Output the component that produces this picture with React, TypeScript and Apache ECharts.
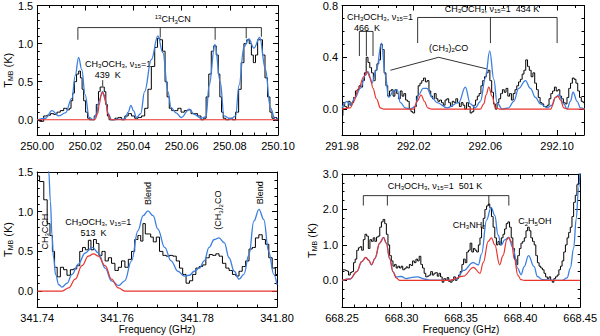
import React, { useEffect, useRef } from "react";
import * as echarts from "echarts";

const FONT = "'Liberation Sans', Arial, Helvetica, sans-serif";
const BLUE = "#3b7fe0";
const RED = "#e8352e";

// ---------- Panel 1 : 250.00 - 250.10 GHz ----------
const P1_OBS: [number, number][] = [
  [250.0000, 0.00], [250.0020, -0.02], [250.0034, 0.05], [250.0048, 0.06], [250.0062, 0.08], [250.0075, 0.07],
  [250.0089, 0.10], [250.0103, 0.12], [250.0117, 0.15], [250.0130, 0.13], [250.0137, 0.15], [250.0144, 0.25],
  [250.0151, 0.35], [250.0158, 0.50], [250.0169, 0.60], [250.0176, 0.64], [250.0183, 0.55], [250.0190, 0.40],
  [250.0196, 0.25], [250.0206, 0.10], [250.0213, 0.02], [250.0220, 0.00], [250.0234, 0.00], [250.0240, 0.05],
  [250.0251, 0.20], [250.0258, 0.37], [250.0265, 0.43], [250.0275, 0.43], [250.0282, 0.37], [250.0288, 0.20],
  [250.0295, 0.05], [250.0302, 0.00], [250.0316, 0.00], [250.0330, 0.02], [250.0343, 0.03], [250.0357, 0.00],
  [250.0371, 0.05], [250.0385, 0.08], [250.0398, 0.05], [250.0412, 0.02], [250.0426, 0.03], [250.0440, 0.05],
  [250.0453, 0.15], [250.0467, 0.40], [250.0481, 0.70], [250.0495, 0.95], [250.0504, 1.07], [250.0515, 1.05],
  [250.0526, 0.90], [250.0536, 0.50], [250.0543, 0.30], [250.0554, 0.15], [250.0563, 0.12], [250.0577, 0.12],
  [250.0591, 0.15], [250.0604, 0.10], [250.0618, 0.12], [250.0632, 0.13], [250.0646, 0.08], [250.0659, 0.08],
  [250.0673, 0.05], [250.0687, 0.00], [250.0696, 0.02], [250.0707, 0.30], [250.0718, 0.60], [250.0728, 0.90],
  [250.0738, 0.97], [250.0749, 0.85], [250.0755, 0.60], [250.0762, 0.30], [250.0769, 0.10], [250.0776, 0.02],
  [250.0790, 0.00], [250.0804, 0.02], [250.0817, 0.00], [250.0831, 0.10], [250.0842, 0.40], [250.0852, 0.75],
  [250.0865, 1.00], [250.0875, 1.05], [250.0886, 1.00], [250.0893, 0.85], [250.0902, 0.75], [250.0911, 0.85],
  [250.0920, 1.05], [250.0930, 1.05], [250.0941, 0.85], [250.0951, 0.55], [250.0962, 0.30], [250.0971, 0.10],
  [250.0979, 0.02], [250.0989, 0.03], [250.1000, 0.00],
];
const P1_FULL: [number, number][] = [
  [250.0000, 0.00], [250.0034, 0.02], [250.0062, 0.12], [250.0089, 0.05], [250.0117, 0.09], [250.0144, 0.28],
  [250.0158, 0.58], [250.0172, 0.82], [250.0185, 0.66], [250.0199, 0.33], [250.0216, 0.03], [250.0234, 0.00],
  [250.0247, 0.08], [250.0257, 0.25], [250.0271, 0.37], [250.0284, 0.25], [250.0295, 0.08], [250.0309, 0.00],
  [250.0364, 0.01], [250.0378, 0.10], [250.0389, 0.19], [250.0400, 0.12], [250.0412, 0.03], [250.0430, 0.08],
  [250.0446, 0.37], [250.0474, 0.79], [250.0501, 1.10], [250.0522, 0.88], [250.0543, 0.37], [250.0556, 0.16],
  [250.0577, 0.09], [250.0598, 0.03], [250.0632, 0.14], [250.0652, 0.07], [250.0680, 0.02], [250.0701, 0.04],
  [250.0714, 0.45], [250.0738, 0.99], [250.0760, 0.50], [250.0776, 0.05], [250.0804, 0.01], [250.0824, 0.05],
  [250.0838, 0.45], [250.0859, 0.96], [250.0879, 1.06], [250.0900, 0.94], [250.0924, 1.08], [250.0948, 0.66],
  [250.0968, 0.16], [250.0989, 0.00], [250.1000, 0.02],
];
const P1_DME: [number, number][] = [
  [250.0000, 0.00], [250.0240, 0.00], [250.0251, 0.08], [250.0258, 0.20], [250.0265, 0.32], [250.0272, 0.36],
  [250.0279, 0.32], [250.0286, 0.20], [250.0293, 0.08], [250.0305, 0.00], [250.1000, 0.00],
];
const P1_YTICKS = [0, 0.5, 1.0, 1.5];

// ---------- Panel 2 : 291.98 - 292.115 GHz ----------
const P2_OBS: [number, number][] = [
  [291.980, -0.05], [291.981, 0.05], [291.982, 0.02], [291.983, 0.01], [291.984, 0.06], [291.985, 0.03],
  [291.986, 0.05], [291.987, 0.09], [291.988, 0.14], [291.989, 0.15], [291.990, 0.18], [291.991, 0.17],
  [291.992, 0.22], [291.993, 0.28], [291.994, 0.40], [291.995, 0.36], [291.996, 0.32], [291.997, 0.28],
  [291.998, 0.22], [291.999, 0.30], [292.000, 0.35], [292.001, 0.38], [292.002, 0.50], [292.003, 0.46],
  [292.004, 0.28], [292.005, 0.18], [292.006, 0.10], [292.007, 0.14], [292.008, 0.15], [292.009, 0.10],
  [292.010, 0.15], [292.011, 0.12], [292.012, 0.08], [292.013, 0.14], [292.014, 0.10], [292.015, 0.12],
  [292.016, 0.07], [292.017, 0.06], [292.018, 0.00], [292.019, -0.02], [292.020, -0.03], [292.021, 0.02],
  [292.022, 0.10], [292.023, 0.18], [292.024, 0.20], [292.025, 0.22], [292.026, 0.24], [292.027, 0.21],
  [292.028, 0.22], [292.029, 0.14], [292.030, 0.10], [292.031, 0.08], [292.032, 0.12], [292.033, 0.08],
  [292.034, 0.06], [292.035, 0.07], [292.036, 0.05], [292.037, 0.03], [292.038, 0.07], [292.039, 0.08],
  [292.040, 0.05], [292.041, 0.02], [292.042, 0.06], [292.043, 0.05], [292.044, 0.08], [292.045, 0.05],
  [292.046, 0.02], [292.047, 0.05], [292.048, 0.03], [292.049, 0.00], [292.050, 0.05], [292.051, 0.02],
  [292.052, -0.03], [292.053, -0.02], [292.054, 0.03], [292.055, 0.07], [292.056, 0.10], [292.057, 0.12],
  [292.058, 0.18], [292.059, 0.22], [292.060, 0.25], [292.061, 0.28], [292.062, 0.30], [292.063, 0.22],
  [292.064, 0.13], [292.065, 0.04], [292.066, 0.00], [292.067, 0.05], [292.068, 0.08], [292.069, 0.12],
  [292.070, 0.15], [292.071, 0.13], [292.072, 0.16], [292.073, 0.10], [292.074, 0.12], [292.075, 0.07],
  [292.076, 0.12], [292.077, 0.15], [292.078, 0.18], [292.079, 0.21], [292.080, 0.23], [292.081, 0.27],
  [292.082, 0.30], [292.083, 0.38], [292.084, 0.33], [292.085, 0.30], [292.086, 0.25], [292.087, 0.28],
  [292.088, 0.20], [292.089, 0.15], [292.090, 0.09], [292.091, 0.05], [292.092, 0.04], [292.093, 0.02],
  [292.094, 0.02], [292.095, 0.03], [292.096, 0.08], [292.097, 0.12], [292.098, 0.14], [292.099, 0.17],
  [292.100, 0.14], [292.101, 0.15], [292.102, 0.10], [292.103, 0.08], [292.104, 0.05], [292.105, 0.04],
  [292.106, 0.09], [292.107, 0.16], [292.108, 0.20], [292.109, 0.24], [292.110, 0.23], [292.111, 0.20],
  [292.112, 0.14], [292.113, 0.09], [292.114, 0.06], [292.115, 0.05],
];
const P2_FULL: [number, number][] = [
  [291.9800, 0.01], [291.9828, 0.06], [291.9847, 0.03], [291.9874, 0.09], [291.9902, 0.16], [291.9930, 0.26],
  [291.9945, 0.29], [291.9967, 0.20], [291.9992, 0.30], [292.0020, 0.51], [292.0042, 0.26], [292.0060, 0.09],
  [292.0088, 0.14], [292.0107, 0.15], [292.0126, 0.05], [292.0153, 0.01], [292.0181, 0.00], [292.0209, 0.02],
  [292.0228, 0.11], [292.0252, 0.16], [292.0274, 0.16], [292.0302, 0.09], [292.0330, 0.05], [292.0386, 0.01],
  [292.0451, 0.05], [292.0488, 0.17], [292.0516, 0.04], [292.0544, 0.01], [292.0572, 0.06], [292.0600, 0.24],
  [292.0624, 0.45], [292.0647, 0.23], [292.0665, 0.05], [292.0693, 0.00], [292.0730, 0.01], [292.0758, 0.06],
  [292.0786, 0.16], [292.0823, 0.22], [292.0851, 0.16], [292.0879, 0.09], [292.0907, 0.04], [292.0944, 0.01],
  [292.0972, 0.03], [292.0991, 0.09], [292.1009, 0.11], [292.1037, 0.04], [292.1056, 0.00], [292.1074, 0.06],
  [292.1089, 0.13], [292.1112, 0.06], [292.1130, 0.01], [292.1154, 0.00],
];
const P2_DME: [number, number][] = [
  [291.9800, 0.00], [291.9847, 0.01], [291.9865, 0.06], [291.9893, 0.16], [291.9921, 0.25], [291.9940, 0.29],
  [291.9958, 0.24], [291.9973, 0.16], [291.9992, 0.08], [292.0014, 0.01], [292.0033, 0.00], [292.0200, 0.00],
  [292.0219, 0.06], [292.0241, 0.11], [292.0260, 0.06], [292.0278, 0.01], [292.0300, 0.00], [292.0572, 0.00],
  [292.0591, 0.04], [292.0604, 0.11], [292.0619, 0.17], [292.0637, 0.10], [292.0656, 0.01], [292.0680, 0.00],
  [292.0963, 0.00], [292.0991, 0.09], [292.1004, 0.10], [292.1019, 0.07], [292.1037, 0.01], [292.1060, 0.00],
  [292.1154, 0.00],
];
const P2_YTICKS = [0, 0.4, 0.8];

// ---------- Panel 3 : 341.74 - 341.80 GHz ----------
const P3_OBS: [number, number][] = [
  [341.7400, 1.45], [341.7412, 1.38], [341.7421, 1.15], [341.7429, 0.85], [341.7435, 0.70], [341.7441, 0.50],
  [341.7446, 0.30], [341.7454, 0.18], [341.7462, 0.30], [341.7470, 0.27], [341.7479, 0.20], [341.7487, 0.27],
  [341.7495, 0.28], [341.7503, 0.32], [341.7510, 0.50], [341.7517, 0.55], [341.7524, 0.52], [341.7532, 0.64],
  [341.7537, 0.52], [341.7545, 0.65], [341.7551, 0.60], [341.7558, 0.45], [341.7566, 0.50], [341.7574, 0.38],
  [341.7582, 0.42], [341.7590, 0.35], [341.7599, 0.26], [341.7607, 0.30], [341.7615, 0.38], [341.7624, 0.30],
  [341.7632, 0.40], [341.7640, 0.50], [341.7648, 0.65], [341.7656, 0.70], [341.7662, 0.63], [341.7667, 0.85],
  [341.7674, 0.72], [341.7681, 0.72], [341.7687, 0.68], [341.7694, 0.62], [341.7702, 0.68], [341.7710, 0.50],
  [341.7719, 0.45], [341.7727, 0.44], [341.7735, 0.45], [341.7744, 0.44], [341.7752, 0.38], [341.7760, 0.29],
  [341.7768, 0.21], [341.7777, 0.10], [341.7785, 0.13], [341.7793, 0.21], [341.7801, 0.29], [341.7810, 0.31],
  [341.7818, 0.33], [341.7826, 0.42], [341.7835, 0.46], [341.7843, 0.45], [341.7851, 0.47], [341.7859, 0.44],
  [341.7868, 0.35], [341.7876, 0.29], [341.7884, 0.26], [341.7893, 0.21], [341.7901, 0.19], [341.7909, 0.25],
  [341.7917, 0.31], [341.7926, 0.38], [341.7934, 0.53], [341.7942, 0.55], [341.7950, 0.67], [341.7959, 0.71],
  [341.7967, 0.65], [341.7975, 0.59], [341.7984, 0.42], [341.7992, 0.29], [341.8000, 0.21],
];
const P3_FULL: [number, number][] = [
  [341.7412, 2.80], [341.7419, 2.30], [341.7425, 1.80], [341.7429, 1.50], [341.7433, 1.13], [341.7437, 0.71],
  [341.7441, 0.42], [341.7446, 0.21], [341.7454, 0.08], [341.7462, 0.05], [341.7475, 0.10], [341.7487, 0.21],
  [341.7503, 0.34], [341.7520, 0.48], [341.7538, 0.55], [341.7553, 0.48], [341.7570, 0.29], [341.7586, 0.13],
  [341.7604, 0.07], [341.7619, 0.13], [341.7636, 0.38], [341.7652, 0.76], [341.7665, 0.95], [341.7677, 1.01],
  [341.7690, 0.95], [341.7702, 0.78], [341.7719, 0.55], [341.7735, 0.38], [341.7752, 0.25], [341.7768, 0.19],
  [341.7781, 0.20], [341.7793, 0.25], [341.7806, 0.29], [341.7818, 0.38], [341.7830, 0.55], [341.7843, 0.65],
  [341.7855, 0.67], [341.7868, 0.61], [341.7880, 0.42], [341.7893, 0.25], [341.7905, 0.15], [341.7917, 0.21],
  [341.7930, 0.46], [341.7942, 0.88], [341.7955, 1.03], [341.7967, 0.90], [341.7979, 0.50], [341.7992, 0.21],
  [341.8000, 0.08],
];
const P3_DME: [number, number][] = [
  [341.7400, 0.00], [341.7462, 0.00], [341.7479, 0.04], [341.7495, 0.15], [341.7512, 0.32], [341.7528, 0.44],
  [341.7541, 0.47], [341.7553, 0.44], [341.7570, 0.32], [341.7586, 0.15], [341.7603, 0.04], [341.7619, 0.00],
  [341.8000, 0.00],
];
const P3_YTICKS = [0, 0.5, 1.0, 1.5];

// ---------- Panel 4 : 668.25 - 668.45 GHz ----------
const P4_OBS: [number, number][] = [
  [668.2507, 0.30], [668.2521, 0.30], [668.2535, 0.28], [668.2548, 0.26], [668.2562, 0.15], [668.2576, 0.22],
  [668.2590, 0.25], [668.2604, 0.50], [668.2617, 0.60], [668.2631, 0.85], [668.2645, 0.92], [668.2659, 0.95],
  [668.2672, 0.85], [668.2686, 1.15], [668.2700, 1.30], [668.2714, 1.25], [668.2728, 0.90], [668.2741, 1.15],
  [668.2755, 1.10], [668.2769, 1.20], [668.2783, 1.10], [668.2797, 1.22], [668.2810, 1.25], [668.2824, 1.50],
  [668.2838, 1.65], [668.2852, 1.72], [668.2866, 1.60], [668.2879, 1.30], [668.2893, 1.00], [668.2907, 0.70],
  [668.2921, 0.55], [668.2935, 0.40], [668.2948, 0.45], [668.2962, 0.35], [668.2976, 0.40], [668.2990, 0.35],
  [668.3003, 0.40], [668.3017, 0.30], [668.3031, 0.33], [668.3045, 0.38], [668.3059, 0.35], [668.3072, 0.45],
  [668.3086, 0.42], [668.3100, 0.55], [668.3114, 0.50], [668.3128, 0.60], [668.3141, 0.55], [668.3155, 0.68],
  [668.3169, 0.45], [668.3183, 0.35], [668.3197, 0.20], [668.3210, 0.10], [668.3224, 0.12], [668.3238, 0.15],
  [668.3252, 0.25], [668.3266, 0.15], [668.3279, 0.20], [668.3293, 0.22], [668.3307, 0.12], [668.3321, 0.20],
  [668.3334, 0.10], [668.3348, -0.05], [668.3362, 0.05], [668.3376, 0.00], [668.3390, 0.08], [668.3403, -0.03],
  [668.3417, -0.05], [668.3431, 0.00], [668.3445, 0.10], [668.3459, 0.00], [668.3472, 0.05], [668.3486, 0.15],
  [668.3500, 0.25], [668.3514, 0.45], [668.3528, 0.60], [668.3541, 0.50], [668.3555, 0.80], [668.3569, 0.85],
  [668.3583, 1.05], [668.3597, 0.80], [668.3610, 0.90], [668.3624, 0.85], [668.3638, 0.80], [668.3652, 1.00],
  [668.3665, 1.20], [668.3679, 1.50], [668.3693, 1.75], [668.3707, 2.00], [668.3721, 2.10], [668.3734, 2.15],
  [668.3748, 2.05], [668.3762, 1.80], [668.3776, 1.50], [668.3790, 1.20], [668.3803, 1.00], [668.3817, 1.10],
  [668.3831, 1.00], [668.3845, 1.20], [668.3859, 1.30], [668.3872, 1.45], [668.3886, 1.60], [668.3900, 1.65],
  [668.3914, 1.50], [668.3928, 1.20], [668.3941, 0.90], [668.3955, 0.60], [668.3969, 0.45], [668.3983, 0.70],
  [668.3996, 0.90], [668.4010, 1.05], [668.4024, 1.10], [668.4038, 1.20], [668.4052, 1.40], [668.4065, 1.50],
  [668.4079, 1.40], [668.4093, 1.20], [668.4107, 1.10], [668.4121, 1.00], [668.4134, 0.70], [668.4148, 0.50],
  [668.4162, 0.40], [668.4176, 0.35], [668.4190, 0.30], [668.4203, 0.20], [668.4217, 0.10], [668.4231, 0.05],
  [668.4245, 0.10], [668.4259, 0.00], [668.4272, -0.05], [668.4286, 0.05], [668.4300, 0.10], [668.4314, 0.15],
  [668.4328, 0.30], [668.4341, 0.40], [668.4355, 0.55], [668.4369, 0.80], [668.4383, 1.00], [668.4397, 1.20],
  [668.4410, 1.35], [668.4424, 1.50], [668.4438, 1.80], [668.4452, 2.20], [668.4466, 2.40], [668.4479, 2.70],
  [668.4493, 3.00],
];
const P4_FULL: [number, number][] = [
  [668.2500, 0.00], [668.2569, 0.04], [668.2624, 0.25], [668.2666, 0.53], [668.2700, 0.65], [668.2721, 0.58],
  [668.2749, 0.44], [668.2776, 0.62], [668.2817, 1.05], [668.2849, 1.21], [668.2872, 1.05], [668.2900, 0.62],
  [668.2928, 0.25], [668.2955, 0.10], [668.2997, 0.11], [668.3038, 0.05], [668.3079, 0.08], [668.3134, 0.10],
  [668.3190, 0.04], [668.3245, 0.01], [668.3397, 0.00], [668.3466, 0.05], [668.3521, 0.28], [668.3600, 0.50],
  [668.3645, 0.44], [668.3672, 0.75], [668.3714, 1.70], [668.3752, 2.06], [668.3783, 1.83], [668.3810, 1.28],
  [668.3838, 1.00], [668.3866, 1.14], [668.3899, 1.21], [668.3934, 0.93], [668.3976, 0.34], [668.4003, 0.16],
  [668.4030, 0.39], [668.4066, 0.70], [668.4113, 0.39], [668.4141, 0.11], [668.4183, 0.02], [668.4348, 0.00],
  [668.4390, 0.07], [668.4417, 0.34], [668.4445, 0.90], [668.4467, 1.74], [668.4486, 2.58], [668.4500, 3.20],
];
const P4_DME: [number, number][] = [
  [668.2500, 0.00], [668.2569, 0.04], [668.2624, 0.25], [668.2666, 0.53], [668.2700, 0.65], [668.2721, 0.58],
  [668.2749, 0.44], [668.2776, 0.62], [668.2817, 1.05], [668.2849, 1.21], [668.2872, 1.05], [668.2900, 0.62],
  [668.2928, 0.25], [668.2955, 0.07], [668.2983, 0.00], [668.3397, 0.00], [668.3521, 0.12], [668.3603, 0.37],
  [668.3659, 0.20], [668.3686, 0.50], [668.3728, 1.10], [668.3755, 1.20], [668.3783, 1.00], [668.3824, 0.44],
  [668.3852, 0.70], [668.3885, 1.15], [668.3899, 1.21], [668.3921, 1.10], [668.3948, 0.60], [668.3976, 0.15],
  [668.4003, 0.02], [668.4030, 0.00], [668.4500, 0.00],
];
const P4_YTICKS = [0, 1.0, 2.0, 3.0];

// ---------- layout ----------
const PANELS = [
  { grid: { left: 35, top: 1, width: 243, height: 134 }, xMin: 250.0, xMax: 250.1, xStep: 0.02, xMinor: 4,
    yMin: -0.2, yMax: 1.5, yMinorStep: 0.1, yTicks: P1_YTICKS, obs: P1_OBS, full: P1_FULL, dme: P1_DME,
    yName: true, yNameGap: 18, xName: false },
  { grid: { left: 342, top: 1, width: 242, height: 134 }, xMin: 291.98, xMax: 292.115, xStep: 0.04, xMinor: 4,
    yMin: -0.2, yMax: 0.8, yMinorStep: 0.1, yTicks: P2_YTICKS, obs: P2_OBS, full: P2_FULL, dme: P2_DME,
    yName: false, yNameGap: 18, xName: false },
  { grid: { left: 35, top: 172, width: 242, height: 135 }, xMin: 341.74, xMax: 341.80, xStep: 0.02, xMinor: 4,
    yMin: -0.2, yMax: 1.5, yMinorStep: 0.1, yTicks: P3_YTICKS, obs: P3_OBS, full: P3_FULL, dme: P3_DME,
    yName: true, yNameGap: 18, xName: true },
  { grid: { left: 342, top: 174, width: 241, height: 133 }, xMin: 668.25, xMax: 668.45, xStep: 0.05, xMinor: 5,
    yMin: -0.75, yMax: 3.0, yMinorStep: 0.25, yTicks: P4_YTICKS, obs: P4_OBS, full: P4_FULL, dme: P4_DME,
    yName: true, yNameGap: 24, xName: true },
];

const NU = "\u03bd";
const DME = `CH{s|3}OCH{s|3}, ${NU}{s|15}=1`;
const ANNOTATIONS: any[] = [
  { kind: "bracket", panel: 0, top: 1.21, xs: [250.0169, 250.0511, 250.0739, 250.0868, 250.0931], bottoms: [1.05, 1.08, 1.05, 1.07, 1.09] },
  { kind: "text", panel: 0, f: 250.0563, t: 1.32, text: "{u|13}CH{s|3}CN", align: "center" },
  { kind: "text", panel: 0, f: 250.0199, t: 0.735, text: DME, align: "left" },
  { kind: "text", panel: 0, f: 250.0293, t: 0.59, text: "439  K", align: "center" },
  { kind: "line", panel: 0, pts: [[250.0272, 0.52], [250.0272, 0.44]] },

  { kind: "text", panel: 1, f: 291.9828, t: 0.715, text: DME, align: "left" },
  { kind: "text", panel: 1, f: 291.9940, t: 0.63, text: "466  K", align: "center" },
  { kind: "bracket", panel: 1, top: 0.60, xs: [291.9897, 291.9936, 291.9973], bottoms: [0.41, 0.41, 0.41] },
  { kind: "text", panel: 1, f: 292.0637, t: 0.775, text: `${DME}  434 K`, align: "center" },
  { kind: "bracket", panel: 1, top: 0.7075, xs: [292.0222, 292.0628, 292.1], bottoms: [0.51, 0.51, 0.51] },
  { kind: "text", panel: 1, f: 292.0395, t: 0.475, text: "(CH{s|3}){s|2}CO", align: "center" },
  { kind: "line", panel: 1, pts: [[292.0070, 0.30], [292.0339, 0.40], [292.0609, 0.31]] },

  { kind: "text", panel: 2, f: 341.7419, t: 0.75, text: "CH{s|3}CCH", align: "center", rotate: true },
  { kind: "text", panel: 2, f: 341.7470, t: 0.875, text: DME, align: "left" },
  { kind: "text", panel: 2, f: 341.7541, t: 0.735, text: "513  K", align: "center" },
  { kind: "text", panel: 2, f: 341.7677, t: 1.23, text: "Blend", align: "center", rotate: true },
  { kind: "text", panel: 2, f: 341.7853, t: 1.02, text: "(CH{s|3}){s|2}CO", align: "center", rotate: true },
  { kind: "text", panel: 2, f: 341.7957, t: 1.24, text: "Blend", align: "center", rotate: true },

  { kind: "text", panel: 3, f: 668.3281, t: 2.67, text: `${DME}  501 K`, align: "center" },
  { kind: "bracket", panel: 3, top: 2.39, xs: [668.2679, 668.2881, 668.3733, 668.3901], bottoms: [2.11, 2.11, 2.11, 2.11] },
  { kind: "text", panel: 3, f: 668.3568, t: 1.57, text: "CH{s|3}NH{s|2}", align: "center" },
  { kind: "text", panel: 3, f: 668.4119, t: 1.67, text: "C{s|2}H{s|5}OH", align: "center" },
];

const GFX_RICH = {
  s: { fontSize: 6, fontFamily: FONT, fill: "#000", verticalAlign: "bottom", lineHeight: 6 },
  u: { fontSize: 6, fontFamily: FONT, fill: "#000", verticalAlign: "top", lineHeight: 6 },
};

function buildOption() {
  const grid: any[] = [];
  const xAxis: any[] = [];
  const yAxis: any[] = [];
  const series: any[] = [];
  const lineBlack = { color: "#000", width: 1 };
  PANELS.forEach((p, i) => {
    grid.push({ ...p.grid });
    const baseX = {
      type: "value", gridIndex: i, min: p.xMin, max: p.xMax, interval: p.xStep,
      splitLine: { show: false },
      axisLine: { onZero: false, lineStyle: lineBlack },
      axisTick: { inside: true, length: 5, lineStyle: lineBlack },
      minorTick: { show: true, splitNumber: p.xMinor, length: 2.5, lineStyle: lineBlack },
      minorSplitLine: { show: false },
    };
    xAxis.push({
      ...baseX, position: "bottom",
      axisLabel: { fontSize: 11, fontFamily: FONT, color: "#000", margin: 5, formatter: (v: number) => v.toFixed(2) },
      name: p.xName ? "Frequency (GHz)" : "", nameLocation: "middle", nameGap: 17,
      nameTextStyle: { fontSize: 10, fontFamily: FONT, color: "#000" },
    });
    xAxis.push({ ...baseX, position: "top", axisLabel: { show: false } });
    const baseY = {
      type: "value", gridIndex: i, min: p.yMin, max: p.yMax,
      splitLine: { show: false },
      axisLine: { onZero: false, lineStyle: lineBlack },
    };
    yAxis.push({
      ...baseY, position: "left", interval: p.yMinorStep,
      axisTick: { inside: true, length: 2.5, lineStyle: lineBlack },
      axisLabel: { customValues: p.yTicks, fontSize: 11, fontFamily: FONT, color: "#000", margin: 4, formatter: (v: number) => v.toFixed(1) },
      name: p.yName ? "T{s|MB} (K)" : "", nameLocation: "middle", nameGap: p.yNameGap, nameRotate: 90,
      nameTextStyle: {
        fontSize: 11, fontFamily: FONT, color: "#000", lineHeight: 13,
        rich: { s: { fontSize: 7, fontFamily: FONT, color: "#000", verticalAlign: "bottom", lineHeight: 8 } },
      },
    });
    yAxis.push({
      ...baseY, position: "left", axisLine: { show: false },
      axisTick: { inside: true, length: 5, customValues: p.yTicks, lineStyle: lineBlack },
      axisLabel: { show: false },
    });
    yAxis.push({
      ...baseY, position: "right", interval: p.yMinorStep,
      axisTick: { inside: true, length: 2.5, lineStyle: lineBlack },
      axisLabel: { show: false },
    });
    yAxis.push({
      ...baseY, position: "right", axisLine: { show: false },
      axisTick: { inside: true, length: 5, customValues: p.yTicks, lineStyle: lineBlack },
      axisLabel: { show: false },
    });
    const common = { type: "line", xAxisIndex: 2 * i, yAxisIndex: 4 * i, showSymbol: false, symbol: "none", silent: true, clip: true };
    series.push({ ...common, data: p.obs, step: "middle", lineStyle: { color: "#000", width: 1 }, z: 2 });
    series.push({ ...common, data: p.full, smooth: 0.4, smoothMonotone: "x", lineStyle: { color: BLUE, width: 1.3 }, z: 3 });
    series.push({ ...common, data: p.dme, smooth: 0.4, smoothMonotone: "x", lineStyle: { color: RED, width: 1.2 }, z: 4 });
  });
  return { animation: false, backgroundColor: "#fff", grid, xAxis, yAxis, series };
}

function buildGraphics(chart: any) {
  const out: any[] = [];
  const px = (panel: number, f: number, t: number) => chart.convertToPixel({ seriesIndex: panel * 3 }, [f, t]);
  const lineStyle = { stroke: "#000", lineWidth: 0.8, fill: null };
  ANNOTATIONS.forEach((a) => {
    if (a.kind === "bracket") {
      const l = px(a.panel, a.xs[0], a.top);
      const r = px(a.panel, a.xs[a.xs.length - 1], a.top);
      out.push({ type: "polyline", silent: true, shape: { points: [l, r] }, style: lineStyle });
      a.xs.forEach((f: number, k: number) => {
        out.push({ type: "polyline", silent: true, shape: { points: [px(a.panel, f, a.top), px(a.panel, f, a.bottoms[k])] }, style: lineStyle });
      });
    } else if (a.kind === "line") {
      out.push({ type: "polyline", silent: true, shape: { points: a.pts.map((q: number[]) => px(a.panel, q[0], q[1])) }, style: lineStyle });
    } else {
      const [x, y] = px(a.panel, a.f, a.t);
      out.push({
        type: "text", silent: true, x, y, rotation: a.rotate ? Math.PI / 2 : 0,
        style: {
          text: a.text, fontSize: 9, fontFamily: FONT, fill: "#000", lineHeight: 11,
          align: a.align, textAlign: a.align, verticalAlign: "middle", textVerticalAlign: "middle",
          rich: GFX_RICH,
        },
      });
    }
  });
  return out;
}

export default function App() {
  const ref = useRef<HTMLDivElement>(null);
  useEffect(() => {
    if (!ref.current) return;
    const chart = echarts.init(ref.current, undefined, { renderer: "svg" });
    chart.setOption(buildOption());
    chart.setOption({ graphic: buildGraphics(chart) });
    return () => chart.dispose();
  }, []);
  return (
    <div
      ref={ref}
      style={{ position: "absolute", left: 0, top: 0, width: 600, height: 336, background: "#fff" }}
    />
  );
}
